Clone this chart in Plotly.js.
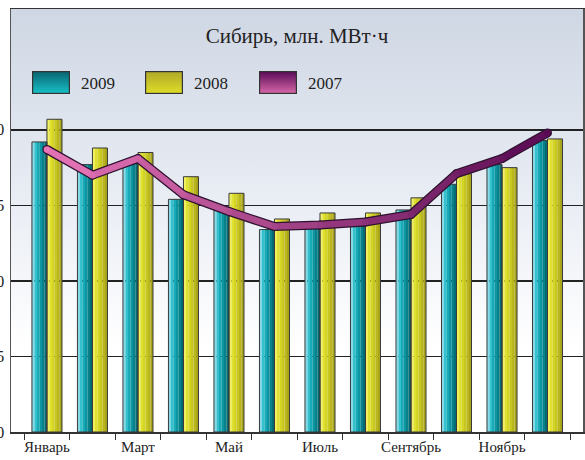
<!DOCTYPE html>
<html><head><meta charset="utf-8">
<script src="https://cdn.plot.ly/plotly-3.0.1.min.js"></script>
<style>html,body{margin:0;padding:0;background:#fff}#chart{width:585px;height:460px}</style>
</head><body><div id="chart"></div>
<script>
const months = ["Январь","Февраль","Март","Апрель","Май","Июнь","Июль","Август","Сентябрь","Октябрь","Ноябрь","Декабрь"];
const monthTickLabels = ["Январь","","Март","","Май","","Июль","","Сентябрь","","Ноябрь",""];
const values2009 = [19.2,17.7,17.8,15.4,14.8,13.4,13.5,13.6,14.7,16.4,17.7,19.3];
const values2008 = [20.7,18.8,18.5,16.9,15.8,14.1,14.5,14.5,15.5,17.1,17.5,19.4];
const values2007 = [18.7,17.0,18.1,15.7,14.6,13.6,13.7,13.9,14.4,17.1,18.1,19.8];
const seriesNames = ["2009","2008","2007"];
const yTickVals = [0,5,10,15,20];
const yTickText = ["0","5","10","15","20"];
const chartTitle = "Сибирь, млн. МВт·ч";

const SERIF = "Liberation Serif, DejaVu Serif, serif";
function svgURI(w,h,stops,stroke,dir){
  const g = stops.map(s=>`<stop offset="${s[0]}" stop-color="${s[1]}"/>`).join("");
  const xy = dir==="h" ? 'x1="0" y1="0" x2="1" y2="0"' : 'x1="0" y1="0" x2="0" y2="1"';
  const str = stroke ? `stroke="${stroke}" stroke-width="1.2"` : "";
  const inset = stroke ? 0.6 : 0;
  const s = `<svg xmlns="http://www.w3.org/2000/svg" width="${w}" height="${h}" viewBox="0 0 ${w} ${h}" preserveAspectRatio="none"><defs><linearGradient id="g" ${xy}>${g}</linearGradient></defs><rect x="${inset}" y="${inset}" width="${w-2*inset}" height="${h-2*inset}" fill="url(#g)" ${str}/></svg>`;
  return "data:image/svg+xml;charset=utf-8," + encodeURIComponent(s);
}
function mix(a,b,t){
  const r=Math.round(a[0]+(b[0]-a[0])*t), g=Math.round(a[1]+(b[1]-a[1])*t), bl=Math.round(a[2]+(b[2]-a[2])*t);
  return `rgb(${r},${g},${bl})`;
}
const lineStart=[232,118,184], lineEnd=[88,10,82];

const BW = 0.33;
const cyanBands = ["#86d9e6","#34c0cd","#18aab6","#0d96a1","#08818b","#046c75"];
const yellowBands = ["#f0f060","#e0e030","#d4d424","#c8c620","#bab61d","#a9a51a"];
const traces = [];
function bandTraces(vals, off, cols){
  const n = cols.length, w = BW/n;
  cols.forEach((c,k)=>{
    traces.push({type:"bar", x:months, y:vals, offset:off+k*w, width:w*1.02,
      marker:{color:c, line:{width:0}}, showlegend:false, hoverinfo:"skip"});
  });
}
bandTraces(values2009, -BW, cyanBands);
bandTraces(values2008, 0, yellowBands);
traces.push({type:"bar", name:seriesNames[0], x:months, y:values2009, offset:-BW, width:BW,
  marker:{color:"rgba(0,0,0,0)", line:{color:"#3a3a3a", width:1}}, showlegend:false});
traces.push({type:"bar", name:seriesNames[1], x:months, y:values2008, offset:0, width:BW,
  marker:{color:"rgba(0,0,0,0)", line:{color:"#3a3a3a", width:1}}, showlegend:false});
// 2007 line: dark outline
traces.push({type:"scatter", mode:"lines+markers", x:months, y:values2007, name:seriesNames[2],
  line:{color:"#2e1230", width:9}, marker:{color:"#2e1230", size:9}, showlegend:false, hoverinfo:"skip"});
for(let i=0;i<values2007.length-1;i++){
  traces.push({type:"scatter", mode:"lines", x:[months[i],months[i+1]], y:[values2007[i],values2007[i+1]],
    line:{color:mix(lineStart,lineEnd,(i+0.5)/(values2007.length-1)), width:6.5}, showlegend:false, hoverinfo:"skip"});
}
traces.push({type:"scatter", mode:"markers", x:months, y:values2007, name:seriesNames[2],
  marker:{color:values2007.map((v,i)=>mix(lineStart,lineEnd,i/(values2007.length-1))), size:6.5}, showlegend:false});

const W=585,H=460,ml=11,mr=2,mt=9,mb=28;
const pw=W-ml-mr, ph=H-mt-mb;
const px=v=>(v-ml)/pw, py=v=>(H-mb-v)/ph;

const swatches = [
  svgURI(38,23,[[0,"#0a6470"],[1,"#16c0c8"]],"#333"),
  svgURI(38,23,[[0,"#b0a828"],[1,"#dede28"]],"#333"),
  svgURI(38,23,[[0,"#5a0a58"],[1,"#d868a8"]],"#333")
];
const images = [{
  source: svgURI(pw,ph,[[0,"#cfd7e4"],[0.45,"#e9edf4"],[0.8,"#ffffff"],[1,"#ffffff"]],null),
  xref:"paper", yref:"paper", x:0, y:1, sizex:1, sizey:1, xanchor:"left", yanchor:"top",
  sizing:"stretch", layer:"below"
}];
const annotations = [];
const legendX = [32,145,259];
seriesNames.forEach((n,i)=>{
  images.push({source:swatches[i], xref:"paper", yref:"paper", x:px(legendX[i]), y:py(71),
    sizex:38/pw, sizey:23/ph, xanchor:"left", yanchor:"top", sizing:"stretch", layer:"above"});
  annotations.push({text:n, xref:"paper", yref:"paper", x:px(legendX[i]+47), y:py(83),
    xanchor:"left", yanchor:"middle", showarrow:false, font:{family:SERIF, size:17, color:"#222"}});
});

const layout = {
  width:W, height:H, margin:{l:ml, r:mr, t:mt, b:mb},
  paper_bgcolor:"#ffffff", plot_bgcolor:"rgba(0,0,0,0)",
  title:{text:chartTitle, font:{family:SERIF, size:21, color:"#222"}, x:0.5, xanchor:"center",
    y:1-36/H, yanchor:"middle", xref:"paper", yref:"container"},
  barmode:"overlay",
  showlegend:false,
  xaxis:{type:"category", range:[-0.79,11.78], tickmode:"array", tickvals:months, ticktext:monthTickLabels,
    tickson:"boundaries", ticks:"outside", ticklen:6, tickcolor:"#333", showgrid:false, tickangle:0,
    showline:true, linecolor:"#333", linewidth:1.5, mirror:true,
    tickfont:{family:SERIF, size:15, color:"#222"}, fixedrange:true},
  yaxis:{range:[0,28], tickmode:"array", tickvals:yTickVals, ticktext:yTickText, ticks:"",
    showgrid:true, gridcolor:"#222", gridwidth:1.3, zeroline:false,
    showline:true, linecolor:"#555", linewidth:1.5, mirror:true,
    tickfont:{family:SERIF, size:16, color:"#222"}, ticklabelstandoff:2, fixedrange:true},
  images:images, annotations:annotations
};
Plotly.newPlot("chart", traces, layout, {displayModeBar:false, staticPlot:true});
</script></body></html>
